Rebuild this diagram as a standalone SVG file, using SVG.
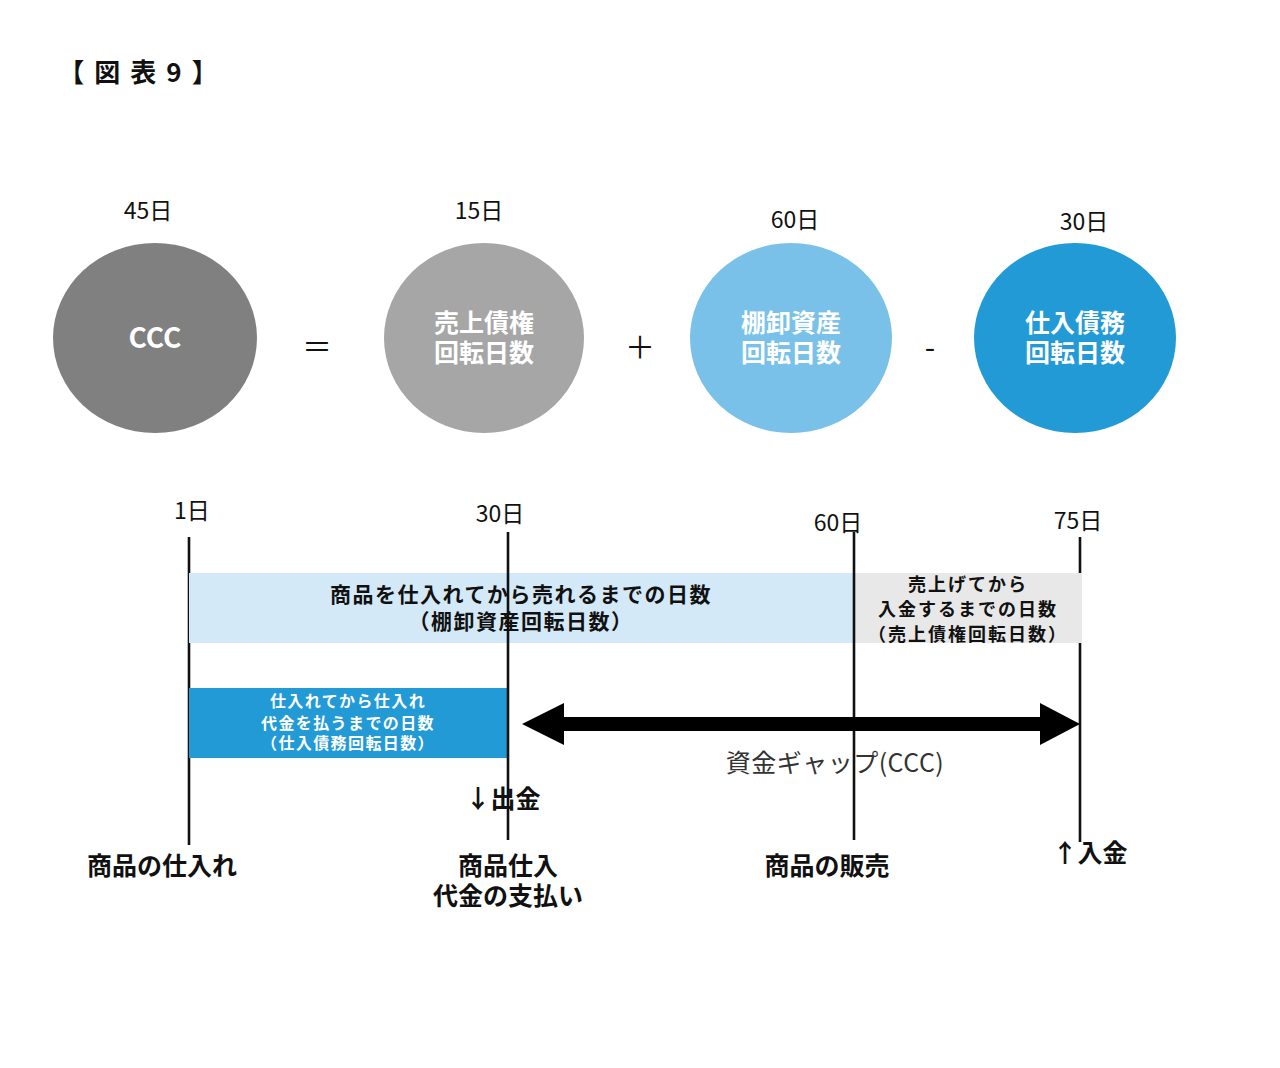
<svg xmlns="http://www.w3.org/2000/svg" width="1280" height="1068" viewBox="0 0 1280 1068">
<style>
text{font-family:"Noto Sans CJK JP","Noto Sans",sans-serif;text-anchor:middle;dominant-baseline:central}
.lbl{font-size:23px;fill:#111}
.ct{font-size:25px;font-weight:bold;fill:#fff}
.op{font-size:30px;fill:#111}
.b{font-weight:bold;fill:#111}
.vl{stroke:#111;stroke-width:2.6}
</style>
<rect width="1280" height="1068" fill="#fff"/>
<text x="143" y="70" style="font-size:26px;font-weight:bold;letter-spacing:10px" fill="#111">【図表9】</text>

<g id="n-ccc"><ellipse cx="155" cy="338" rx="102" ry="95" fill="#808080"/><text class="ct" x="155" y="336" style="font-size:28px">CCC</text><text class="lbl" x="148" y="209">45日</text></g>
<text class="op" x="317" y="345">＝</text>
<g id="n-ar"><ellipse cx="484" cy="338" rx="100" ry="95" fill="#a6a6a6"/><text class="ct" x="484" y="321">売上債権<tspan x="484" dy="30">回転日数</tspan></text><text class="lbl" x="479" y="209">15日</text></g>
<text class="op" x="640" y="345">＋</text>
<g id="n-inv"><ellipse cx="791" cy="338" rx="101" ry="95" fill="#79c1e8"/><text class="ct" x="791" y="321">棚卸資産<tspan x="791" dy="30">回転日数</tspan></text><text class="lbl" x="795" y="218">60日</text></g>
<text class="op" x="930" y="345">-</text>
<g id="n-ap"><ellipse cx="1075" cy="338" rx="101" ry="95" fill="#229ad6"/><text class="ct" x="1075" y="321">仕入債務<tspan x="1075" dy="30">回転日数</tspan></text><text class="lbl" x="1084" y="220">30日</text></g>

<g id="timeline-lines">
<line class="vl" x1="189" y1="537" x2="189" y2="845"/>
<line class="vl" x1="1080" y1="537" x2="1080" y2="842"/>
</g>
<g id="bar-inv"><rect x="189" y="573" width="665" height="70" fill="#d4e9f7"/><text class="b" style="font-size:21px;letter-spacing:1.5px" x="521" y="593">商品を仕入れてから売れるまでの日数<tspan x="521" dy="27">（棚卸資産回転日数）</tspan></text></g>
<g id="bar-ar"><rect x="854" y="573" width="228" height="70" fill="#e8e8e8"/><text class="b" style="font-size:18px;letter-spacing:2px" x="968" y="583">売上げてから<tspan x="968" dy="25">入金するまでの日数</tspan><tspan x="968" dy="25">（売上債権回転日数）</tspan></text></g>
<g id="bar-ap"><rect x="189" y="688" width="319" height="70" fill="#229ad6"/><text class="b" style="font-size:16px;letter-spacing:1.4px;fill:#fff" x="348" y="700">仕入れてから仕入れ<tspan x="348" dy="22">代金を払うまでの日数</tspan><tspan x="348" dy="20">（仕入債務回転日数）</tspan></text></g>
<g id="timeline-lines-front">
<line class="vl" x1="508" y1="532" x2="508" y2="840"/>
<line class="vl" x1="854" y1="532" x2="854" y2="840"/>
</g>

<g id="connectors">
<rect x="560" y="717" width="484" height="14" fill="#000"/>
<polygon points="522,724 564,703 564,745" fill="#000"/>
<polygon points="1080,724 1040,703 1040,745" fill="#000"/>
</g>

<text class="lbl" x="192" y="509">1日</text>
<text class="lbl" x="500" y="512">30日</text>
<text class="lbl" x="838" y="521">60日</text>
<text class="lbl" x="1078" y="519">75日</text>

<text x="835" y="761" style="font-size:25px;letter-spacing:0.5px;fill:#333">資金ギャップ(CCC)</text>
<text class="b" x="503" y="797" style="font-size:25px">↓出金</text>
<text class="b" x="162" y="864" style="font-size:25px">商品の仕入れ</text>
<text class="b" x="508" y="864" style="font-size:25px">商品仕入<tspan x="508" dy="30">代金の支払い</tspan></text>
<text class="b" x="827" y="864" style="font-size:25px">商品の販売</text>
<text class="b" x="1090" y="851" style="font-size:25px">↑入金</text>
</svg>
